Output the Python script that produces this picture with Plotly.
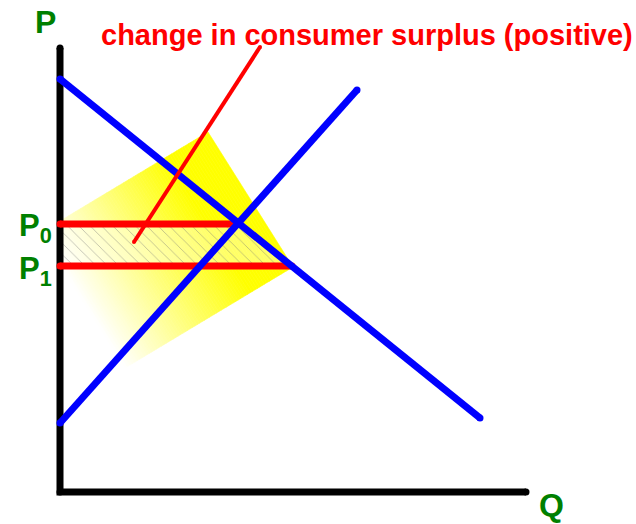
import plotly.graph_objects as go

# ---- model values (Q horizontal, P vertical) ----
axis_p_top = 44.4          # height of the price axis
axis_q_end = 46.6          # length of the quantity axis

demand_q = [0.0, 42.0]
demand_p = [41.3, 7.4]

supply_q = [0.0, 29.7]
supply_p = [6.9, 40.2]

P0, Q0 = 26.8, 17.8        # original price and quantity demanded
P1, Q1 = 22.6, 23.2        # new price and quantity demanded

# pointer from the caption down into the shaded area
pointer_q = [20.0, 7.4]
pointer_p = [44.5, 25.0]

# highlight panel behind the surplus area (corners: left, top, right, bottom)
glow_corners = {"L": (-2.0, 25.9), "T": (14.8, 36.0), "R": (23.3, 22.5), "B": (6.5, 12.4)}

caption = "change in consumer surplus (positive)"

GREEN = "#008000"
RED = "#ff0000"
BLUE = "#0000ff"
FONT = "Liberation Sans, Arial, sans-serif"

fig = go.Figure()


def clip_left(poly, xmin=0.0):
    """Clip a polygon to the half-plane x >= xmin."""
    out = []
    n = len(poly)
    for i in range(n):
        a, b = poly[i], poly[(i + 1) % n]
        ina, inb = a[0] >= xmin, b[0] >= xmin
        if ina:
            out.append(a)
        if ina != inb:
            t = (xmin - a[0]) / (b[0] - a[0])
            out.append((xmin, a[1] + t * (b[1] - a[1])))
    return out


def lerp(p, q, t):
    return (p[0] + t * (q[0] - p[0]), p[1] + t * (q[1] - p[1]))


# yellow glow: strips running from the bottom corner (white) to the right corner (yellow)
L, T, R, B = (glow_corners[k] for k in "LTRB")
n_strips = 70
for i in range(n_strips):
    t0, t1 = i / n_strips, (i + 1) / n_strips
    poly = [lerp(B, R, t0), lerp(L, T, t0), lerp(L, T, t1), lerp(B, R, t1)]
    poly = clip_left(poly)
    if len(poly) < 3:
        continue
    tm = (t0 + t1) / 2
    a = min(1.0, tm / 0.75)
    col = f"rgb(255,255,{round(255 * (1 - a))})"
    xs = [p[0] for p in poly] + [poly[0][0]]
    ys = [p[1] for p in poly] + [poly[0][1]]
    fig.add_trace(go.Scatter(x=xs, y=ys, mode="lines", fill="toself", fillcolor=col,
                             line=dict(color=col, width=0.6), hoverinfo="skip"))

# hatched consumer-surplus gain between P0 and P1 under the demand curve
fig.add_trace(go.Scatter(
    x=[0, Q0, Q1, 0, 0], y=[P0, P0, P1, P1, P0], mode="lines", fill="toself",
    fillcolor="rgba(0,0,0,0)",
    fillpattern=dict(shape="\\", size=8, solidity=0.1, fgcolor="#707070",
                     bgcolor="rgba(255,255,255,0.4)"),
    line=dict(color="black", width=1), hoverinfo="skip"))


def seg(xs, ys, color, width):
    fig.add_trace(go.Scatter(
        x=xs, y=ys, mode="lines+markers",
        line=dict(color=color, width=width),
        marker=dict(color=color, size=width, line=dict(width=0)),
        hoverinfo="skip"))


# axes
seg([0, 0, axis_q_end], [axis_p_top, 0, 0], "black", 7)
# price levels
seg([0, Q0], [P0, P0], RED, 7)
seg([0, Q1], [P1, P1], RED, 7)
# demand and supply
seg(demand_q, demand_p, BLUE, 7)
seg(supply_q, supply_p, BLUE, 7)
# caption pointer
seg(pointer_q, pointer_p, RED, 4)

labels = [
    dict(x=-1.5, y=47.0, text="<b>P</b>", size=32, color=GREEN),
    dict(x=49.1, y=-1.3, text="<b>Q</b>", size=32, color=GREEN),
    dict(x=-2.5, y=26.4, text="<b>P<sub>0</sub></b>", size=31, color=GREEN),
    dict(x=-2.5, y=22.1, text="<b>P<sub>1</sub></b>", size=31, color=GREEN),
    dict(x=30.7, y=45.7, text=f"<b>{caption}</b>", size=29, color=RED),
]
for lb in labels:
    fig.add_annotation(x=lb["x"], y=lb["y"], text=lb["text"], showarrow=False,
                       xanchor="center", yanchor="middle",
                       font=dict(family=FONT, size=lb["size"], color=lb["color"]))

fig.update_layout(
    width=636, height=524, margin=dict(l=0, r=0, t=0, b=0),
    paper_bgcolor="white", plot_bgcolor="white", showlegend=False,
    xaxis=dict(range=[-6.0, 57.6], visible=False, fixedrange=True),
    yaxis=dict(range=[-3.2, 49.2], visible=False, fixedrange=True),
)

fig.write_html("out.html")
